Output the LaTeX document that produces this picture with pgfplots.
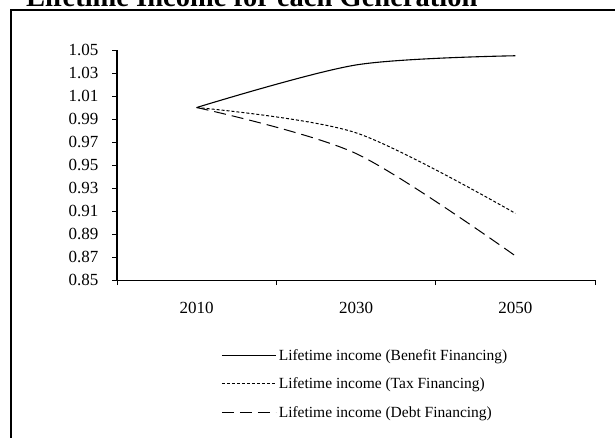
\documentclass[border=0pt]{standalone}
\usepackage{fontspec}
\setmainfont{Liberation Serif}
\usepackage{pgfplots}
\pgfplotsset{compat=1.18}

\begin{document}
\begin{tikzpicture}[x=1pt,y=1pt]
\useasboundingbox (0,0) rectangle (615,-437);
% outer frame (only top and left edges show)
\draw[line width=2pt] (11,-460) -- (11,-10) -- (640,-10);
% title, mostly cut off by the page edge
\node[anchor=base west, inner sep=0pt, font=\bfseries\fontsize{28.5}{32}\selectfont] at (26,-6) {Lifetime Income for each Generation};
\begin{axis}[
    at={(117pt,-280pt)}, anchor=south west,
    scale only axis, width=478pt, height=230pt,
    axis lines*=left,
    xmin=0, xmax=3, ymin=0.85, ymax=1.05,
    xtick={0,1,2,3}, x tick label as interval,
    xticklabels={2010,2030,2050},
    ytick={0.85,0.87,0.89,0.91,0.93,0.95,0.97,0.99,1.01,1.03,1.05},
    /pgf/number format/assume math mode=true,
    yticklabel style={/pgf/number format/fixed, /pgf/number format/fixed zerofill,
        /pgf/number format/precision=2, xshift=-10pt},
    xticklabel style={yshift=-14pt},
    ticklabel style={font=\fontsize{17}{20}\selectfont},
    tick align=outside, major tick length=5pt,
    tick style={black, line width=0.8pt},
    axis line style={line width=1pt},
    y axis line style={line width=1.4pt},
    legend style={at={(0.2113,-0.283)}, anchor=north west, draw=none, fill=none,
        font=\fontsize{15.5}{18}\selectfont, row sep=12pt,
        nodes={inner xsep=2.5pt}},
    legend cell align=left,
    legend image code/.code={\draw[#1] (0pt,0pt) -- (54pt,0pt);},
]
\addplot[smooth, black, line width=1.1pt] coordinates {(0.5,1.000) (1.5,1.037) (2.5,1.045)};
\addlegendentry{Lifetime income (Benefit Financing)}
\addplot[smooth, black, line width=1pt, dash pattern=on 3pt off 2pt] coordinates {(0.5,1.000) (1.5,0.978) (2.5,0.908)};
\addlegendentry{Lifetime income (Tax Financing)}
\addplot[smooth, black, line width=1pt, dash pattern=on 12pt off 6pt] coordinates {(0.5,1.000) (1.5,0.960) (2.5,0.871)};
\addlegendentry{Lifetime income (Debt Financing)}
\end{axis}
\end{tikzpicture}
\end{document}
